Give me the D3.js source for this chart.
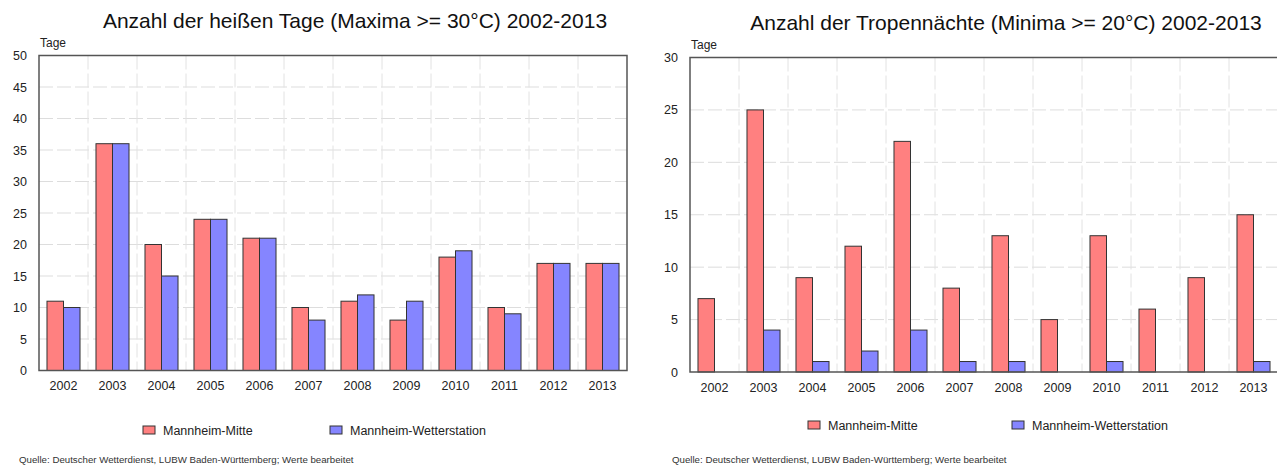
<!DOCTYPE html>
<html>
<head>
<meta charset="utf-8">
<script src="https://cdn.jsdelivr.net/npm/d3@7"></script>
<style>
  body { margin: 0; background: #fff; }
  svg { display: block; font-family: "Liberation Sans", Arial, sans-serif; }
</style>
</head>
<body>
<div id="chart"></div>
<script>
// values
var years = ["2002","2003","2004","2005","2006","2007","2008","2009","2010","2011","2012","2013"];
var seriesNames = ["Mannheim-Mitte", "Mannheim-Wetterstation"];
var hotDaysMitte = [11, 36, 20, 24, 21, 10, 11, 8, 18, 10, 17, 17];
var hotDaysStation = [10, 36, 15, 24, 21, 8, 12, 11, 19, 9, 17, 17];
var tropNightsMitte = [7, 25, 9, 12, 22, 8, 13, 5, 13, 6, 9, 15];
var tropNightsStation = [0, 4, 1, 2, 4, 1, 1, 0, 1, 0, 0, 1];
var hotTicks = [0, 5, 10, 15, 20, 25, 30, 35, 40, 45, 50];
var tropTicks = [0, 5, 10, 15, 20, 25, 30];
var source = "Quelle: Deutscher Wetterdienst, LUBW Baden-Württemberg; Werte bearbeitet";

var colors = ["#ff8080", "#8585ff"];

var svg = d3.select("#chart").append("svg")
  .attr("width", 1277)
  .attr("height", 470);

function drawChart(opt) {
  var x = d3.scaleBand().domain(years).range([opt.left, opt.right]);
  var bw = x.bandwidth();
  var xs = d3.scaleBand().domain(seriesNames).range([bw * 0.163, bw * 0.837]);
  var y = d3.scaleLinear().domain([0, opt.max]).range([opt.bottom, opt.top]);

  var g = svg.append("g");

  // title
  g.append("text")
    .attr("x", opt.titleX)
    .attr("y", opt.titleY)
    .attr("text-anchor", "middle")
    .style("font-size", "21px")
    .attr("fill", "#111")
    .text(opt.title);

  // grid
  g.append("g").selectAll("line.h")
    .data(opt.ticks.filter(function(t) { return t > 0 && t < opt.max; }))
    .enter().append("line")
    .attr("x1", opt.left).attr("x2", opt.right)
    .attr("y1", function(d) { return y(d); })
    .attr("y2", function(d) { return y(d); })
    .attr("stroke", "#dddddd")
    .attr("stroke-dasharray", "14,4");

  g.append("g").selectAll("line.v")
    .data(years.slice(1))
    .enter().append("line")
    .attr("x1", function(d) { return x(d); })
    .attr("x2", function(d) { return x(d); })
    .attr("y1", opt.top).attr("y2", opt.bottom)
    .attr("stroke", "#e2e2e2")
    .attr("stroke-dasharray", "14,4");

  // bars
  var rows = years.map(function(yr, i) {
    return { year: yr, values: [opt.data[0][i], opt.data[1][i]] };
  });
  var groups = g.append("g").selectAll("g")
    .data(rows)
    .enter().append("g")
    .attr("transform", function(d) { return "translate(" + x(d.year) + ",0)"; });
  groups.selectAll("rect")
    .data(function(d) {
      return d.values.map(function(v, k) { return { name: seriesNames[k], value: v, k: k }; })
        .filter(function(e) { return e.value > 0; });
    })
    .enter().append("rect")
    .attr("x", function(d) { return xs(d.name); })
    .attr("width", xs.bandwidth())
    .attr("y", function(d) { return y(d.value); })
    .attr("height", function(d) { return y(0) - y(d.value); })
    .attr("fill", function(d) { return colors[d.k]; })
    .attr("stroke", "#333")
    .attr("stroke-width", 1);

  // frame
  g.append("rect")
    .attr("x", opt.left).attr("y", opt.top)
    .attr("width", opt.right - opt.left)
    .attr("height", opt.bottom - opt.top)
    .attr("fill", "none")
    .attr("stroke", "#555")
    .attr("stroke-width", 1.5);

  // y axis labels
  var yAxis = d3.axisLeft(y).tickValues(opt.ticks).tickSize(0).tickPadding(12);
  var ya = g.append("g").attr("transform", "translate(" + opt.left + ",0)").call(yAxis);
  ya.select(".domain").remove();
  ya.selectAll("text").style("font-size", "12.5px").attr("fill", "#222");

  // x axis labels
  var xAxis = d3.axisBottom(x).tickSize(0).tickPadding(11);
  var xa = g.append("g").attr("transform", "translate(0," + opt.bottom + ")").call(xAxis);
  xa.select(".domain").remove();
  xa.selectAll("text").style("font-size", "12.5px").attr("fill", "#222");

  // unit label
  g.append("text")
    .attr("x", opt.left + 1)
    .attr("y", opt.top - 9)
    .style("font-size", "12px")
    .attr("fill", "#222")
    .text("Tage");

  // legend
  var leg = g.append("g").selectAll("g")
    .data(seriesNames)
    .enter().append("g")
    .attr("transform", function(d, i) { return "translate(" + opt.legendX[i] + "," + opt.legendY + ")"; });
  leg.append("rect")
    .attr("x", 0).attr("y", -4)
    .attr("width", 12).attr("height", 8)
    .attr("fill", function(d, i) { return colors[i]; })
    .attr("stroke", "#333");
  leg.append("text")
    .attr("x", 20).attr("y", 4.5)
    .style("font-size", "12.5px")
    .attr("fill", "#222")
    .text(function(d) { return d; });

  // source
  g.append("text")
    .attr("x", opt.sourceX)
    .attr("y", 463)
    .style("font-size", "9.7px")
    .attr("fill", "#333")
    .text(source);
}

drawChart({
  title: "Anzahl der heißen Tage (Maxima >= 30°C) 2002-2013",
  titleX: 355, titleY: 28,
  left: 39, right: 627, top: 55.5, bottom: 370.5,
  max: 50, ticks: hotTicks,
  data: [hotDaysMitte, hotDaysStation],
  legendX: [143, 330], legendY: 430,
  sourceX: 19
});

drawChart({
  title: "Anzahl der Tropennächte (Minima >= 20°C) 2002-2013",
  titleX: 1006, titleY: 30,
  left: 690, right: 1278, top: 57.5, bottom: 372,
  max: 30, ticks: tropTicks,
  data: [tropNightsMitte, tropNightsStation],
  legendX: [808, 1012], legendY: 425,
  sourceX: 672
});
</script>
</body>
</html>
